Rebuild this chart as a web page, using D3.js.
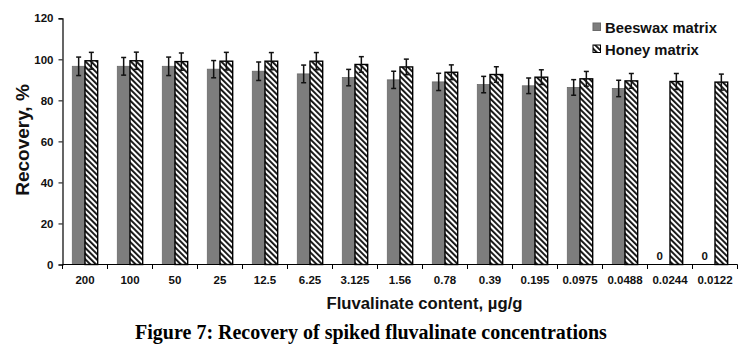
<!DOCTYPE html>
<html>
<head>
<meta charset="utf-8">
<script src="https://cdn.jsdelivr.net/npm/d3@7"></script>
<style>
  html, body { margin: 0; padding: 0; background: #fff; }
  svg { display: block; }
</style>
</head>
<body>
<svg id="chart" width="742" height="352"></svg>
<script>
const categories = ["200","100","50","25","12.5","6.25","3.125","1.56","0.78","0.39","0.195","0.0975","0.0488","0.0244","0.0122"];
const beeswax = [96.6, 96.6, 96.6, 95.2, 94.2, 92.9, 91.1, 90.0, 89.0, 87.7, 87.1, 86.3, 85.8, 0, 0];
const beeswaxErr = [4.5, 4.3, 4.5, 4.2, 4.5, 4.3, 4.0, 4.2, 4.2, 4.0, 3.8, 3.8, 4.0, 0, 0];
const honey = [99.3, 99.3, 98.9, 99.1, 99.1, 99.1, 97.5, 96.3, 93.7, 92.6, 91.3, 90.5, 89.5, 89.2, 88.9];
const honeyErr = [4.1, 4.2, 4.2, 4.3, 4.2, 4.2, 3.8, 3.8, 3.6, 3.8, 3.6, 3.6, 3.6, 3.9, 3.9];
const yTicks = [0, 20, 40, 60, 80, 100, 120];
const seriesNames = ["Beeswax matrix", "Honey matrix"];
const yTitle = "Recovery, %";
const xTitle = "Fluvalinate content, µg/g";
const caption = "Figure 7: Recovery of spiked fluvalinate concentrations";

const svg = d3.select("#chart");
const plotL = 62.5, plotR = 737.5, plotT = 18.3, plotB = 264.5;

const defs = svg.append("defs");
const pat = defs.append("pattern")
  .attr("id", "hatch").attr("patternUnits", "userSpaceOnUse")
  .attr("width", 4).attr("height", 4)
  .attr("patternTransform", "rotate(-45)");
pat.append("rect").attr("width", 4).attr("height", 4).attr("fill", "#fff");
pat.append("rect").attr("x", 0).attr("width", 1.9).attr("height", 4).attr("fill", "#111");

const x = d3.scaleBand().domain(categories).range([plotL, plotR]).padding(0);
const y = d3.scaleLinear().domain([0, 120]).range([plotB, plotT]);
const barW = x.bandwidth() * 0.282;
const off = (x.bandwidth() - 2 * barW) / 2;

const font = "'Liberation Sans', Arial, sans-serif";

// Y axis
const yAxis = svg.append("g").attr("transform", `translate(${plotL},0)`)
  .call(d3.axisLeft(y).tickValues(yTicks).tickSize(4).tickPadding(5));
yAxis.select(".domain").attr("stroke", "#000").attr("stroke-width", 1.2);
yAxis.selectAll(".tick line").attr("stroke", "#000").attr("stroke-width", 1);
yAxis.selectAll(".tick text").attr("font-family", font).attr("font-weight", "bold")
  .attr("font-size", 11.5).attr("fill", "#111");

// Bars
const g = svg.append("g");
g.selectAll("rect.bw").data(categories).join("rect").attr("class", "bw")
  .attr("x", (d) => x(d) + off)
  .attr("y", (d, i) => y(beeswax[i]))
  .attr("width", barW)
  .attr("height", (d, i) => y(0) - y(beeswax[i]))
  .attr("fill", "#7d7d7d").attr("stroke", "#6a6a6a").attr("stroke-width", 0.8);

g.selectAll("rect.hn").data(categories).join("rect").attr("class", "hn")
  .attr("x", (d) => x(d) + off + barW)
  .attr("y", (d, i) => y(honey[i]))
  .attr("width", barW)
  .attr("height", (d, i) => y(0) - y(honey[i]))
  .attr("fill", "url(#hatch)").attr("stroke", "#000").attr("stroke-width", 1.4);

// Error bars
function errBars(vals, errs, dx) {
  const eg = svg.append("g").attr("stroke", "#111").attr("stroke-width", 1.5);
  categories.forEach((c, i) => {
    if (vals[i] <= 0) return;
    const cx = x(c) + off + dx + barW / 2;
    const y1 = y(vals[i] + errs[i]), y2 = y(vals[i] - errs[i]);
    eg.append("line").attr("x1", cx).attr("x2", cx).attr("y1", y1).attr("y2", y2);
    eg.append("line").attr("x1", cx - 2.5).attr("x2", cx + 2.5).attr("y1", y1).attr("y2", y1);
    eg.append("line").attr("x1", cx - 2.5).attr("x2", cx + 2.5).attr("y1", y2).attr("y2", y2);
  });
}
errBars(beeswax, beeswaxErr, 0);
errBars(honey, honeyErr, barW);

// zero labels
svg.append("g").selectAll("text").data(categories.filter((c, i) => beeswax[i] === 0)).join("text")
  .attr("x", (d) => x(d) + off + barW / 2 - 4)
  .attr("y", y(0) - 5)
  .attr("text-anchor", "middle")
  .attr("font-family", font).attr("font-weight", "bold").attr("font-size", 11.5).attr("fill", "#111")
  .text("0");

// X axis
const xAxis = svg.append("g").attr("transform", `translate(0,${plotB})`);
xAxis.append("line").attr("x1", plotL).attr("x2", plotR).attr("y1", 0).attr("y2", 0)
  .attr("stroke", "#000").attr("stroke-width", 1.2);
const bounds = categories.map((c) => x(c)).concat([x(categories[categories.length - 1]) + x.bandwidth()]);
xAxis.selectAll("line.t").data(bounds).join("line").attr("class", "t")
  .attr("x1", (d) => d).attr("x2", (d) => d).attr("y1", 0).attr("y2", 4.5)
  .attr("stroke", "#000").attr("stroke-width", 1);
xAxis.selectAll("text").data(categories).join("text")
  .attr("x", (d) => x(d) + x.bandwidth() / 2)
  .attr("y", 19)
  .attr("text-anchor", "middle")
  .attr("font-family", font).attr("font-weight", "bold").attr("font-size", 11.5).attr("fill", "#111")
  .text((d) => d);

// Axis titles
svg.append("text")
  .attr("transform", "translate(29,140) rotate(-90)")
  .attr("text-anchor", "middle")
  .attr("font-family", font).attr("font-weight", "bold").attr("font-size", 19).attr("fill", "#111")
  .text(yTitle);
svg.append("text")
  .attr("x", 424.5).attr("y", 309)
  .attr("text-anchor", "middle")
  .attr("font-family", font).attr("font-weight", "bold").attr("font-size", 16.7).attr("fill", "#111")
  .text(xTitle);

// Caption
svg.append("text")
  .attr("x", 371).attr("y", 339)
  .attr("text-anchor", "middle")
  .attr("font-family", "'Liberation Serif', 'Times New Roman', serif").attr("font-weight", "bold")
  .attr("font-size", 20).attr("fill", "#000")
  .text(caption);

// Legend
const leg = svg.append("g");
const legFills = ["#7d7d7d", "url(#hatch)"];
const legStrokes = ["#6a6a6a", "#000"];
seriesNames.forEach((s, i) => {
  const ly = 23 + i * 22;
  leg.append("rect").attr("x", 593).attr("y", ly).attr("width", 7.5).attr("height", 7.5)
    .attr("fill", legFills[i]).attr("stroke", legStrokes[i]).attr("stroke-width", 1);
  leg.append("text").attr("x", 605).attr("y", ly + 9.5)
    .attr("font-family", font).attr("font-weight", "bold").attr("font-size", 14.8).attr("fill", "#111")
    .text(s);
});
</script>
</body>
</html>
